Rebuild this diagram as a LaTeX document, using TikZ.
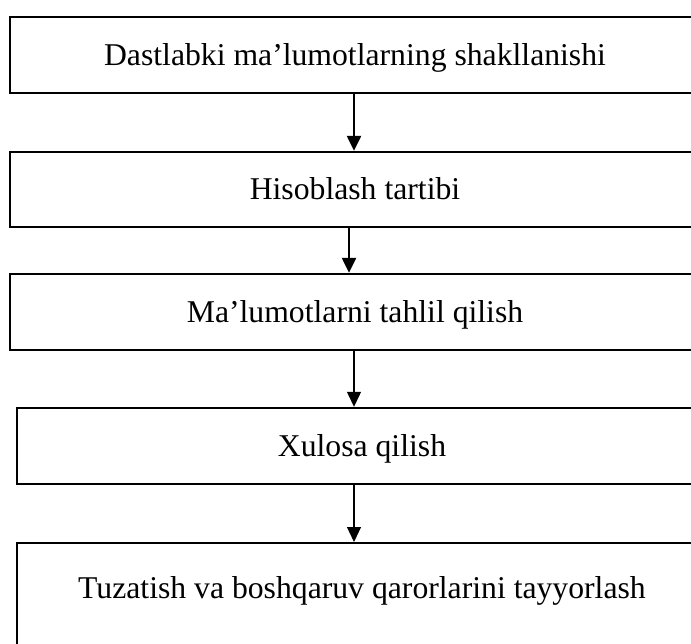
\documentclass[tikz,border=0pt]{standalone}
\usepackage{fontspec}
\setmainfont{Liberation Serif}
\usetikzlibrary{arrows.meta}

\begin{document}
\begin{tikzpicture}[x=1pt,y=-1pt,>={Triangle[width=14pt,length=15pt]},
  stage/.style={draw,line width=2.4pt,rectangle,minimum width=690pt,minimum height=76pt,
    text height=24pt,text depth=3pt,font=\fontsize{31.7}{38}\selectfont},
  flow/.style={->,line width=2.4pt},
  thinflow/.style={->,line width=1.2pt}]

  % page frame, the boxes run past the right edge
  \useasboundingbox (0,0) rectangle (691,644);
  \clip (0,0) rectangle (691,644);

  % draw the stages
  \node[stage] (s1) at (355,55) {Dastlabki ma’lumotlarning shakllanishi};
  \node[stage,minimum height=75pt] (s2) at (355,189.5) {Hisoblash tartibi};
  \node[stage] (s3) at (355,312) {Ma’lumotlarni tahlil qilish};
  \node[stage] (s4) at (362,446) {Xulosa qilish};
  % last box is cut at the bottom
  \node[stage,anchor=north,inner ysep=0pt,text height=55pt,text depth=80pt] (s5) at (362,542)
    {Tuzatish va boshqaruv qarorlarini tayyorlash};

  % arrows between the stages
  \draw[flow] ([xshift=-1pt]s1.south) -- ([xshift=-1pt]s2.north);
  \draw[flow] ([xshift=-6pt]s2.south) -- ([xshift=-6pt]s3.north);
  \draw[thinflow] ([xshift=-1pt]s3.south) -- ([xshift=-1pt]s3.south |- s4.north);
  \draw[thinflow] ([xshift=-1pt]s4.south -| s3.south) -- ([xshift=-1pt]s5.north -| s3.south);

\end{tikzpicture}
\end{document}
